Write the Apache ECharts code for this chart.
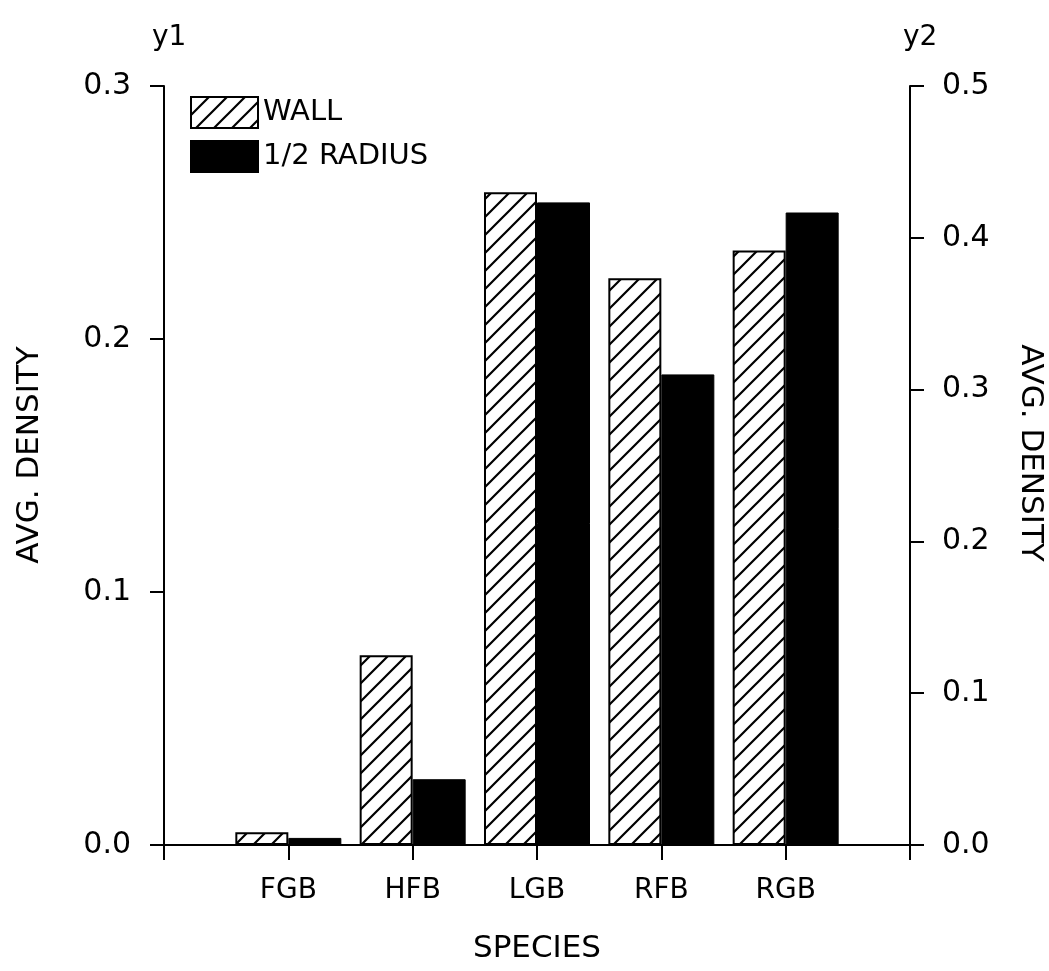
<!DOCTYPE html>
<html>
<head>
<meta charset="utf-8">
<script src="https://cdn.jsdelivr.net/npm/echarts@6/dist/echarts.min.js"></script>
<style>
  html, body { margin: 0; padding: 0; background: #fff; }
  #chart { width: 1049px; height: 971px; }
</style>
</head>
<body>
<div id="chart"></div>
<script>
// Species along the bottom axis
const categories = ['FGB', 'HFB', 'LGB', 'RFB', 'RGB'];
// Average density near the wall (hatched bars)
const wallDensity = [0.005, 0.075, 0.258, 0.224, 0.235];
// Average density at half radius (solid bars)
const halfRadiusDensity = [0.0028, 0.026, 0.254, 0.186, 0.250];
// Axis ranges
const y1Range = { min: 0, max: 0.3, interval: 0.1 };
const y2Range = { min: 0, max: 0.5, interval: 0.1 };

const FONT = 'DejaVu Sans';

// Diagonal hatch tile for the WALL bars
function hatchPattern() {
  const s = 18;
  const c = document.createElement('canvas');
  c.width = s; c.height = s;
  const ctx = c.getContext('2d');
  ctx.fillStyle = '#fff';
  ctx.fillRect(0, 0, s, s);
  ctx.strokeStyle = '#000';
  ctx.lineWidth = 2.2;
  ctx.beginPath();
  ctx.moveTo(-2, s + 2); ctx.lineTo(s + 2, -2);
  ctx.moveTo(-3, 3); ctx.lineTo(3, -3);
  ctx.moveTo(s - 3, s + 3); ctx.lineTo(s + 3, s - 3);
  ctx.stroke();
  return { image: c, repeat: 'repeat' };
}

// Empty slots at both ends put the species on ticks 1..5 of 0..6
const axisCats = [''].concat(categories, ['']);
const pad = arr => ['-'].concat(arr, ['-']);

const chart = echarts.init(document.getElementById('chart'), null, { renderer: 'canvas' });

const axisLineStyle = { color: '#000', width: 2 };
const labelStyle = { color: '#000', fontFamily: FONT, fontSize: 28 };
const yLabelStyle = { color: '#000', fontFamily: FONT, fontSize: 30 };

chart.setOption({
  animation: false,
  backgroundColor: '#fff',
  grid: { left: 164, right: 139, top: 86, bottom: 126, containLabel: false },
  legend: {
    data: [
      { name: 'WALL', icon: 'rect' },
      { name: '1/2 RADIUS', icon: 'rect' }
    ],
    orient: 'vertical',
    left: 185,
    top: 91,
    itemWidth: 67,
    itemHeight: 31,
    itemGap: 11,
    selectedMode: false,
    textStyle: { color: '#000', fontFamily: FONT, fontSize: 29 }
  },
  xAxis: {
    type: 'category',
    data: axisCats,
    boundaryGap: false,
    name: 'SPECIES',
    nameLocation: 'middle',
    nameGap: 88,
    nameTextStyle: { color: '#000', fontFamily: FONT, fontSize: 31 },
    axisLine: { lineStyle: axisLineStyle },
    axisTick: { show: true, interval: 0, length: 15, lineStyle: axisLineStyle },
    axisLabel: Object.assign({ interval: 0, margin: 32 }, labelStyle),
    splitLine: { show: false }
  },
  yAxis: [
    {
      type: 'value',
      position: 'left',
      min: y1Range.min, max: y1Range.max, interval: y1Range.interval,
      axisLine: { show: true, lineStyle: axisLineStyle },
      axisTick: { show: true, length: 14, lineStyle: axisLineStyle },
      axisLabel: Object.assign({ margin: 33, formatter: v => v.toFixed(1) }, yLabelStyle),
      splitLine: { show: false }
    },
    {
      type: 'value',
      position: 'right',
      min: y2Range.min, max: y2Range.max, interval: y2Range.interval,
      axisLine: { show: true, lineStyle: axisLineStyle },
      axisTick: { show: true, length: 14, lineStyle: axisLineStyle },
      axisLabel: Object.assign({ margin: 32, formatter: v => v.toFixed(1) }, yLabelStyle),
      splitLine: { show: false }
    }
  ],
  graphic: [
    { type: 'text', left: 152, top: 24, style: { text: 'y1', fill: '#000', font: '28px ' + FONT } },
    { type: 'text', left: 903, top: 24, style: { text: 'y2', fill: '#000', font: '28px ' + FONT } },
    {
      type: 'text', x: 30, y: 455, rotation: Math.PI / 2,
      style: { text: 'AVG. DENSITY', fill: '#000', font: '31px ' + FONT, align: 'center', verticalAlign: 'middle' }
    },
    {
      type: 'text', x: 1030, y: 453, rotation: -Math.PI / 2,
      style: { text: 'AVG. DENSITY', fill: '#000', font: '31px ' + FONT, align: 'center', verticalAlign: 'middle' }
    }
  ],
  series: [
    {
      name: 'WALL',
      type: 'bar',
      yAxisIndex: 0,
      data: pad(wallDensity),
      barWidth: 53,
      barGap: '0%',
      itemStyle: { color: hatchPattern(), borderColor: '#000', borderWidth: 2 }
    },
    {
      name: '1/2 RADIUS',
      type: 'bar',
      yAxisIndex: 0,
      data: pad(halfRadiusDensity),
      barWidth: 53,
      barGap: '0%',
      itemStyle: { color: '#000', borderColor: '#000', borderWidth: 1 }
    }
  ]
});
</script>
</body>
</html>
